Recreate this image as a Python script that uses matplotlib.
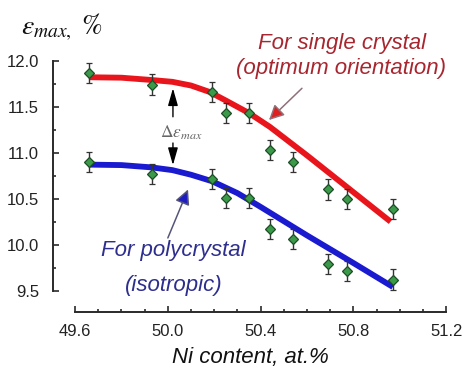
import matplotlib
matplotlib.use("Agg")
import matplotlib.pyplot as plt
from matplotlib.ticker import MultipleLocator

#############################################################################
# Data #
ni_content = [49.66, 49.93, 50.19, 50.25, 50.35, 50.44, 50.54, 50.69, 50.77, 50.97]
eps_single = [11.87, 11.74, 11.66, 11.43, 11.43, 11.03, 10.90, 10.60, 10.50, 10.39]
eps_poly = [10.90, 10.77, 10.71, 10.51, 10.51, 10.17, 10.06, 9.79, 9.71, 9.62]
eps_err = 0.11

# fitted curves
fit_single_x = [49.66, 49.8, 49.93, 50.02, 50.1, 50.18, 50.255, 50.35, 50.44, 50.6, 50.78, 50.96]
fit_single_y = [11.82, 11.815, 11.79, 11.77, 11.73, 11.66, 11.56, 11.43, 11.28, 10.97, 10.61, 10.25]
fit_poly_x = [49.66, 49.8, 49.93, 50.02, 50.1, 50.19, 50.3, 50.4, 50.6, 50.8, 50.97]
fit_poly_y = [10.87, 10.865, 10.84, 10.81, 10.76, 10.69, 10.56, 10.41, 10.10, 9.80, 9.54]

x_ticks = [49.6, 50.0, 50.4, 50.8, 51.2]
y_ticks = [9.5, 10.0, 10.5, 11.0, 11.5, 12.0]

#############################################################################
# Plotting #
plt.rcParams['font.family'] = ['Liberation Sans', 'DejaVu Sans']
plt.rcParams['mathtext.fontset'] = 'stix'

fig = plt.figure(figsize=(4.64, 3.70), dpi=100)
ax = fig.add_axes([0.1142, 0.1568, 0.8556, 0.6946])
ax.set_xlim(49.505, 51.216)
ax.set_ylim(9.268, 12.062)

# detached spines
for s in ['top', 'right']:
    ax.spines[s].set_visible(False)
ax.spines['left'].set_bounds(9.5, 12.0)
ax.spines['bottom'].set_bounds(49.6, 51.2)
for s in ['left', 'bottom']:
    ax.spines[s].set_linewidth(1.4)
    ax.spines[s].set_color('#2a2a2a')

ax.set_xticks(x_ticks)
ax.set_yticks(y_ticks)
ax.set_xticklabels([f"{v:.1f}" for v in x_ticks])
ax.set_yticklabels([f"{v:.1f}" for v in y_ticks])
ax.xaxis.set_minor_locator(MultipleLocator(0.1))
ax.yaxis.set_minor_locator(MultipleLocator(0.25))
ax.tick_params(which='both', direction='in', color='#2a2a2a', width=1.2)
ax.tick_params(which='major', length=4.5, labelsize=12, labelcolor='#222222')
ax.tick_params(which='minor', length=2.5)
ax.tick_params(axis='y', which='major', pad=10)
ax.tick_params(axis='x', which='major', pad=9)

# fitted curves
ax.plot(fit_single_x, fit_single_y, color='#e8161c', lw=4.2, solid_capstyle='butt',
        solid_joinstyle='round', zorder=2)
ax.plot(fit_poly_x, fit_poly_y, color='#1a1ad0', lw=4.2, solid_capstyle='butt',
        solid_joinstyle='round', zorder=2)

# measured points
for vals in [eps_single, eps_poly]:
    ax.errorbar(ni_content, vals, yerr=eps_err, fmt='D', ms=5.5,
                mfc='#3a9a4a', mec='#1d4d25', mew=0.9,
                ecolor='#333333', elinewidth=1.0, capsize=2.2, capthick=1.0, zorder=3)

# delta arrows
head = '-|>,head_length=0.7,head_width=0.2'
ax.annotate('', xy=(50.022, 11.70), xytext=(50.022, 11.39),
            arrowprops=dict(arrowstyle=head, color='black', lw=1, mutation_scale=15,
                            shrinkA=0, shrinkB=0))
ax.annotate('', xy=(50.022, 10.865), xytext=(50.022, 11.105),
            arrowprops=dict(arrowstyle=head, color='black', lw=1, mutation_scale=15,
                            shrinkA=0, shrinkB=0))
ax.text(50.06, 11.214, r'$\Delta\varepsilon_{max}$', color='#666666', fontsize=12.5,
        ha='center', va='center')

# labels for the curves
red_txt = '#a8262f'
blue_txt = '#2e2e8f'
ax.text(50.75, 12.19, 'For single crystal', color=red_txt, fontsize=16,
        style='italic', ha='center', va='center')
ax.text(50.745, 11.92, '(optimum orientation)', color=red_txt, fontsize=16,
        style='italic', ha='center', va='center')
ax.annotate('', xy=(50.436, 11.355), xytext=(50.578, 11.70),
            arrowprops=dict(arrowstyle='-|>,head_length=0.6,head_width=0.3',
                            fc='#e01e1e', ec='#907078', lw=1.1,
                            mutation_scale=15, shrinkA=0, shrinkB=0))

ax.text(50.022, 9.94, 'For polycrystal', color=blue_txt, fontsize=16,
        style='italic', ha='center', va='center')
ax.text(50.026, 9.56, '(isotropic)', color=blue_txt, fontsize=16,
        style='italic', ha='center', va='center')
ax.annotate('', xy=(50.087, 10.60), xytext=(50.0, 10.073),
            arrowprops=dict(arrowstyle='-|>,head_length=0.6,head_width=0.3',
                            fc='#1c1cc0', ec='#55557a', lw=1.1,
                            mutation_scale=15, shrinkA=0, shrinkB=0))

# axis titles
fig.text(62 / 464, 1 - 27 / 370, r'$\varepsilon_{max,}\ \%$', fontsize=20,
         ha='center', va='center', color='#111111')
fig.text(250 / 464, 1 - 357 / 370, 'Ni content, at.%', fontsize=16, style='italic',
         ha='center', va='center', color='#111111')

fig.savefig('out.png', dpi=100)
